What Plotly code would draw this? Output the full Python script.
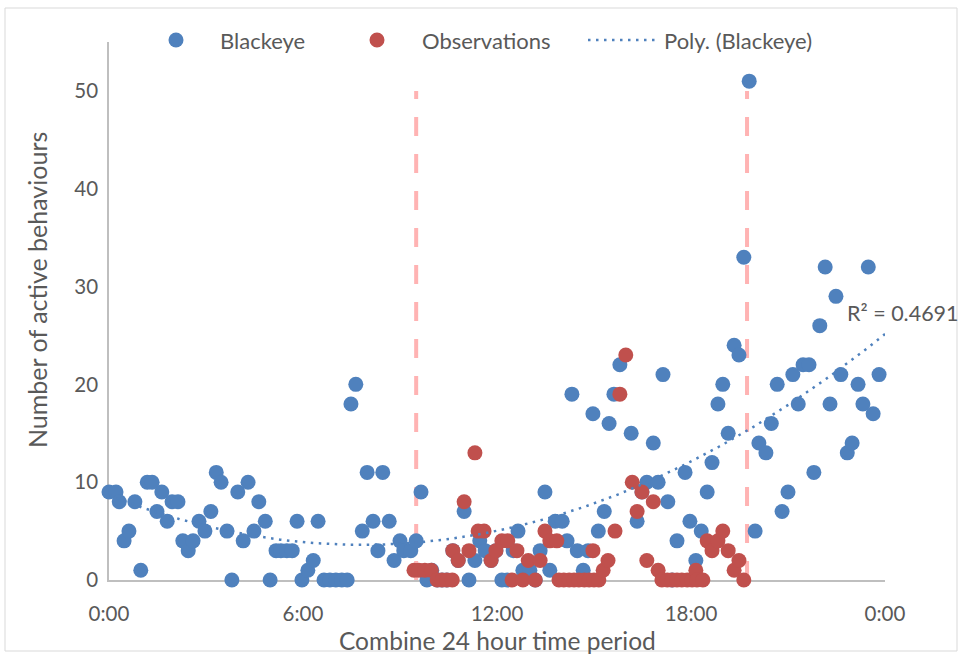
import numpy as np
import plotly.graph_objects as go

# ---- data -------------------------------------------------------------
blackeye_times = [
    "0:00", "0:13", "0:19", "0:28", "0:37", "0:48", "0:59", "1:11", "1:20", "1:29",
    "1:38", "1:48", "1:57", "2:08", "2:17", "2:27", "2:36", "2:47", "2:58", "3:09",
    "3:19", "3:28", "3:39", "3:48", "3:59", "4:09", "4:18", "4:29", "4:38", "4:50",
    "4:59", "5:10", "5:19", "5:30", "5:40", "5:49", "5:58", "6:09", "6:19", "6:28",
    "6:39", "6:50", "7:01", "7:12", "7:22", "7:29", "7:38", "7:50", "7:59", "8:10",
    "8:19", "8:28", "8:40", "8:49", "9:00", "9:07", "9:20", "9:30", "9:39", "9:50",
    "9:59", "10:09", "10:18", "10:27", "10:38", "10:48", "10:59", "11:08", "11:19", "11:28",
    "11:38", "11:49", "11:58", "12:09", "12:19", "12:30", "12:39", "12:48", "13:01", "13:11",
    "13:20", "13:29", "13:38", "13:48", "14:01", "14:10", "14:19", "14:29", "14:40", "14:49",
    "14:58", "15:08", "15:19", "15:28", "15:37", "15:48", "16:09", "16:20", "16:29", "16:38",
    "16:50", "16:59", "17:08", "17:17", "17:25", "17:34", "17:49", "17:58", "18:09", "18:19",
    "18:30", "18:39", "18:50", "18:59", "19:09", "19:20", "19:29", "19:38", "19:48", "19:59",
    "20:06", "20:19", "20:29", "20:40", "20:49", "21:00", "21:09", "21:19", "21:28", "21:39",
    "21:48", "21:59", "22:09", "22:18", "22:29", "22:38", "22:50", "22:59", "23:10", "23:19",
    "23:29", "23:38", "23:49",
]
blackeye_values = [
    9, 9, 8, 4, 5, 8, 1, 10, 10, 7,
    9, 6, 8, 8, 4, 3, 4, 6, 5, 7,
    11, 10, 5, 0, 9, 4, 10, 5, 8, 6,
    0, 3, 3, 3, 3, 6, 0, 1, 2, 6,
    0, 0, 0, 0, 0, 18, 20, 5, 11, 6,
    3, 11, 6, 2, 4, 3, 3, 4, 9, 0,
    1, 0, 0, 0, 3, 2, 7, 0, 2, 4,
    3, 2, 3, 0, 0, 3, 5, 1, 1, 0,
    3, 9, 1, 6, 6, 4, 19, 3, 1, 3,
    17, 5, 7, 16, 19, 22, 15, 6, 9, 10,
    14, 10, 21, 8, 0, 4, 11, 6, 2, 5,
    9, 12, 18, 20, 15, 24, 23, 33, 51, 5,
    14, 13, 16, 20, 7, 9, 21, 18, 22, 22,
    11, 26, 32, 18, 29, 21, 13, 14, 20, 18,
    32, 17, 21,
]

observation_times = [
    "9:26", "9:35", "9:46", "9:58", "10:09", "10:18", "10:27", "10:37", "10:38", "10:48",
    "10:59", "11:08", "11:19", "11:25", "11:36", "11:49", "11:58", "12:09", "12:20", "12:28",
    "12:37", "12:48", "12:58", "13:11", "13:20", "13:29", "13:38", "13:51", "13:55", "14:04",
    "14:14", "14:23", "14:32", "14:42", "14:51", "14:58", "15:00", "15:09", "15:17", "15:26",
    "15:39", "15:48", "15:59", "16:11", "16:20", "16:29", "16:38", "16:50", "16:59", "17:06",
    "17:16", "17:25", "17:34", "17:43", "17:53", "18:02", "18:09", "18:11", "18:22", "18:30",
    "18:39", "18:50", "18:59", "19:09", "19:20", "19:29", "19:38",
]
observation_values = [
    1, 1, 1, 1, 0, 0, 0, 0, 3, 2,
    8, 3, 13, 5, 5, 2, 3, 4, 4, 0,
    3, 0, 2, 0, 2, 5, 4, 4, 0, 0,
    0, 0, 0, 0, 0, 3, 0, 0, 1, 2,
    5, 19, 23, 10, 7, 9, 2, 8, 1, 0,
    0, 0, 0, 0, 0, 0, 1, 0, 0, 4,
    3, 4, 5, 3, 1, 2, 0,
]

period_times = ["9:30", "19:44"]
period_height = 50

x_tick_hours = [0, 6, 12, 18, 24]
x_tick_labels = ["0:00", "6:00", "12:00", "18:00", "0:00"]
y_tick_values = [0, 10, 20, 30, 40, 50]
trend_order = 2
r_squared_text = "R² = 0.4691"

# ---- styling ------------------------------------------------------------
BLUE = "#4F81BD"
RED = "#C0504D"
PINK = "#FFB3B3"
TEXT = "#595959"
AXIS = "#BFBFBF"
FONT = "Lato"

W, H = 961, 657
ML, MR, MT, MB = 109, 76, 42, 77
PW, PH = W - ML - MR, H - MT - MB


def to_hours(t):
    h, m = t.split(":")
    return int(h) + int(m) / 60.0


def px(x):
    """pixel column -> paper x"""
    return (x - ML) / PW


def py(y):
    """pixel row -> paper y"""
    return (H - MB - y) / PH


bx = np.array([to_hours(t) for t in blackeye_times])
by = np.array(blackeye_values, dtype=float)
ox = [to_hours(t) for t in observation_times]

# polynomial trendline of the Blackeye series
coef = np.polyfit(bx, by, trend_order)
tx = np.linspace(0, 24, 300)
ty = np.polyval(coef, tx)

fig = go.Figure()

# day/night boundary markers
for t in period_times:
    h = to_hours(t)
    fig.add_trace(go.Scatter(
        x=[h, h], y=[0, period_height], mode="lines",
        line=dict(color=PINK, width=4, dash="19px,18px"),
        hoverinfo="skip", showlegend=False, cliponaxis=False,
    ))

fig.add_trace(go.Scatter(
    x=bx, y=by, mode="markers", name="Blackeye",
    marker=dict(color=BLUE, size=15, line=dict(width=0)),
    showlegend=False, cliponaxis=False,
))
fig.add_trace(go.Scatter(
    x=ox, y=observation_values, mode="markers", name="Observations",
    marker=dict(color=RED, size=15, line=dict(width=0)),
    showlegend=False, cliponaxis=False,
))
fig.add_trace(go.Scatter(
    x=tx, y=ty, mode="lines", name="Poly. (Blackeye)",
    line=dict(color=BLUE, width=2.5, dash="2.5px,5.5px"),
    showlegend=False, cliponaxis=False, hoverinfo="skip",
))

shapes = [
    # outer chart border
    dict(type="rect", xref="paper", yref="paper",
         x0=px(5), x1=px(957), y0=py(651), y1=py(8),
         line=dict(color="#D9D9D9", width=1), layer="below"),
    # legend symbols
    dict(type="circle", xref="paper", yref="paper",
         xsizemode="pixel", ysizemode="pixel",
         xanchor=px(176), yanchor=py(40), x0=-7.5, x1=7.5, y0=-7.5, y1=7.5,
         fillcolor=BLUE, line=dict(width=0)),
    dict(type="circle", xref="paper", yref="paper",
         xsizemode="pixel", ysizemode="pixel",
         xanchor=px(377), yanchor=py(40), x0=-7.5, x1=7.5, y0=-7.5, y1=7.5,
         fillcolor=RED, line=dict(width=0)),
    dict(type="line", xref="paper", yref="paper",
         x0=px(588), x1=px(658), y0=py(40), y1=py(40),
         line=dict(color=BLUE, width=2.5, dash="2.5px,5.5px")),
]

annotations = [
    dict(text="Blackeye", x=px(218), y=py(40), xanchor="left", yanchor="middle", font=dict(size=22)),
    dict(text="Observations", x=px(420), y=py(40), xanchor="left", yanchor="middle", font=dict(size=22)),
    dict(text="Poly. (Blackeye)", x=px(662), y=py(40), xanchor="left", yanchor="middle", font=dict(size=22)),
    dict(text=r_squared_text, x=px(903), y=py(313), xanchor="center", yanchor="middle", font=dict(size=21.5)),
    dict(text="Combine 24 hour time period", x=px(497), y=py(640),
         xanchor="center", yanchor="middle", font=dict(size=24.5)),
    dict(text="Number of active behaviours", x=px(37), y=py(290), textangle=-90,
         xanchor="center", yanchor="middle", font=dict(size=25)),
]
for a in annotations:
    a.update(xref="paper", yref="paper", showarrow=False)
    a["font"] = dict(family=FONT, color=TEXT, size=a["font"]["size"])

fig.update_layout(
    width=W, height=H,
    margin=dict(l=ML, r=MR, t=MT, b=MB, pad=0),
    paper_bgcolor="white", plot_bgcolor="white",
    font=dict(family=FONT, color=TEXT, size=20),
    showlegend=False,
    shapes=shapes,
    annotations=annotations,
    xaxis=dict(
        range=[0, 24], tickmode="array", tickvals=x_tick_hours, ticktext=x_tick_labels,
        showgrid=False, zeroline=False, showline=True, linecolor=AXIS, linewidth=1.5,
        ticks="", ticklabelstandoff=15, layer="below traces",
        tickfont=dict(family=FONT, size=20.5, color=TEXT),
    ),
    yaxis=dict(
        range=[0, 55], tickmode="array", tickvals=y_tick_values,
        showgrid=False, zeroline=False, showline=True, linecolor=AXIS, linewidth=1.5,
        ticks="", ticklabelstandoff=5, layer="below traces",
        tickfont=dict(family=FONT, size=20.5, color=TEXT),
    ),
)

fig.write_html("out.html")
